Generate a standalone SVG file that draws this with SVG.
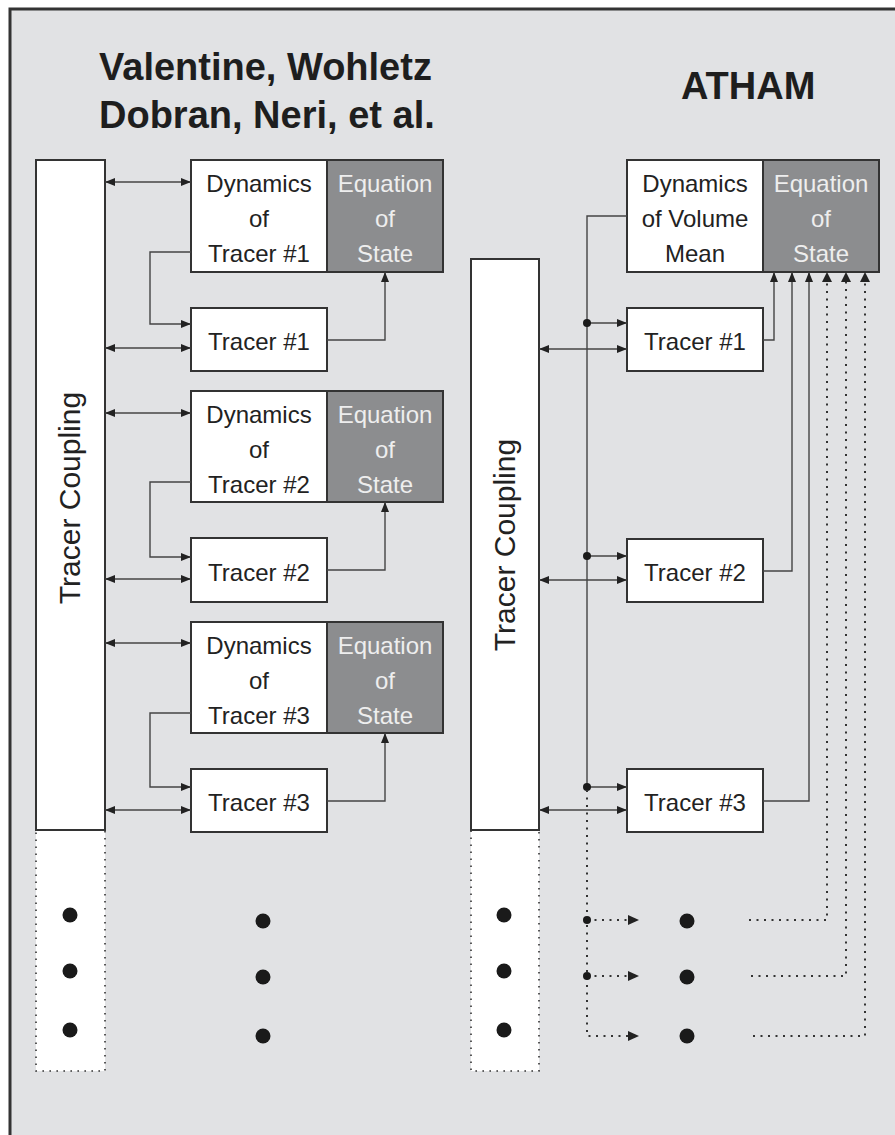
<svg xmlns="http://www.w3.org/2000/svg" width="895" height="1135" viewBox="0 0 895 1135">
<defs>
<style>
.box{fill:#ffffff;stroke:#333333;stroke-width:2}
.eos{fill:#8c8d8f;stroke:#333333;stroke-width:2}
.dbox{fill:#ffffff;stroke:#333333;stroke-width:1.6;stroke-dasharray:1.6 5.4}
.t{font-family:"Liberation Sans",Arial,sans-serif;font-size:24px;fill:#222222;text-anchor:middle}
.tw{font-family:"Liberation Sans",Arial,sans-serif;font-size:24px;fill:#eeeeee;text-anchor:middle}
.title{font-family:"Liberation Sans",Arial,sans-serif;font-size:38px;font-weight:bold;fill:#1e1e1e}
.tc{font-family:"Liberation Sans",Arial,sans-serif;font-size:30px;fill:#222222;text-anchor:middle}
.ln{fill:none;stroke:#444444;stroke-width:1.4}
.dl{fill:none;stroke:#333333;stroke-width:2;stroke-dasharray:2 5.5}
.dot{fill:#1a1a1a}
</style>
<marker id="ah" viewBox="0 0 10 8" refX="10" refY="4" markerWidth="10" markerHeight="8" orient="auto-start-reverse" markerUnits="userSpaceOnUse">
<path d="M0,0 L10,4 L0,8 z" fill="#222222"/>
</marker>
</defs>
<rect x="0" y="0" width="895" height="1135" fill="#ffffff"/>
<rect x="10" y="9" width="885" height="1126" fill="#e1e2e4"/>
<path d="M10,1135 V9 H895" fill="none" stroke="#333333" stroke-width="3"/>

<g id="titles">
<text class="title" x="99" y="80">Valentine, Wohletz</text>
<text class="title" x="99" y="128">Dobran, Neri, et al.</text>
<text class="title" x="681" y="99">ATHAM</text>
</g>

<!-- Left column -->
<g id="left-coupling">
<rect class="dbox" x="36" y="830" width="69" height="241"/>
<rect class="box" x="36" y="160" width="69" height="670"/>
<text class="tc" transform="translate(80,498) rotate(-90)">Tracer Coupling</text>
<circle class="dot" cx="70" cy="915" r="7.5"/>
<circle class="dot" cx="70" cy="971" r="7.5"/>
<circle class="dot" cx="70" cy="1030" r="7.5"/>
</g>

<g id="left-dyn1">
<rect class="box" x="191" y="160" width="136" height="112"/>
<text class="t" x="259" y="192">Dynamics</text>
<text class="t" x="259" y="227">of</text>
<text class="t" x="259" y="262">Tracer #1</text>
</g>
<g id="left-eos1">
<rect class="eos" x="327" y="160" width="116" height="112"/>
<text class="tw" x="385" y="192">Equation</text>
<text class="tw" x="385" y="227">of</text>
<text class="tw" x="385" y="262">State</text>
</g>
<g id="left-tracer1">
<rect class="box" x="191" y="308" width="136" height="63"/>
<text class="t" x="259" y="350">Tracer #1</text>
</g>

<g id="left-dyn2">
<rect class="box" x="191" y="391" width="136" height="111"/>
<text class="t" x="259" y="423">Dynamics</text>
<text class="t" x="259" y="458">of</text>
<text class="t" x="259" y="493">Tracer #2</text>
</g>
<g id="left-eos2">
<rect class="eos" x="327" y="391" width="116" height="111"/>
<text class="tw" x="385" y="423">Equation</text>
<text class="tw" x="385" y="458">of</text>
<text class="tw" x="385" y="493">State</text>
</g>
<g id="left-tracer2">
<rect class="box" x="191" y="538" width="136" height="64"/>
<text class="t" x="259" y="581">Tracer #2</text>
</g>

<g id="left-dyn3">
<rect class="box" x="191" y="622" width="136" height="111"/>
<text class="t" x="259" y="654">Dynamics</text>
<text class="t" x="259" y="689">of</text>
<text class="t" x="259" y="724">Tracer #3</text>
</g>
<g id="left-eos3">
<rect class="eos" x="327" y="622" width="116" height="111"/>
<text class="tw" x="385" y="654">Equation</text>
<text class="tw" x="385" y="689">of</text>
<text class="tw" x="385" y="724">State</text>
</g>
<g id="left-tracer3">
<rect class="box" x="191" y="769" width="136" height="63"/>
<text class="t" x="259" y="811">Tracer #3</text>
</g>

<g id="left-ellipsis">
<circle class="dot" cx="263" cy="921" r="7.5"/>
<circle class="dot" cx="263" cy="977" r="7.5"/>
<circle class="dot" cx="263" cy="1036" r="7.5"/>
</g>

<!-- Right column -->
<g id="right-coupling">
<rect class="dbox" x="471" y="830" width="68" height="241"/>
<rect class="box" x="471" y="259" width="68" height="571"/>
<text class="tc" transform="translate(515,545) rotate(-90)">Tracer Coupling</text>
<circle class="dot" cx="504" cy="915" r="7.5"/>
<circle class="dot" cx="504" cy="971" r="7.5"/>
<circle class="dot" cx="504" cy="1030" r="7.5"/>
</g>
<g id="right-dyn">
<rect class="box" x="627" y="160" width="136" height="112"/>
<text class="t" x="695" y="192">Dynamics</text>
<text class="t" x="695" y="227">of Volume</text>
<text class="t" x="695" y="262">Mean</text>
</g>
<g id="right-eos">
<rect class="eos" x="763" y="160" width="116" height="112"/>
<text class="tw" x="821" y="192">Equation</text>
<text class="tw" x="821" y="227">of</text>
<text class="tw" x="821" y="262">State</text>
</g>
<g id="right-tracer1">
<rect class="box" x="627" y="308" width="136" height="63"/>
<text class="t" x="695" y="350">Tracer #1</text>
</g>
<g id="right-tracer2">
<rect class="box" x="627" y="539" width="136" height="63"/>
<text class="t" x="695" y="581">Tracer #2</text>
</g>
<g id="right-tracer3">
<rect class="box" x="627" y="769" width="136" height="63"/>
<text class="t" x="695" y="811">Tracer #3</text>
</g>
<g id="right-ellipsis">
<circle class="dot" cx="687" cy="921" r="7.5"/>
<circle class="dot" cx="687" cy="977" r="7.5"/>
<circle class="dot" cx="687" cy="1036" r="7.5"/>
</g>

<g id="connectors">
<!-- left double arrows -->
<path class="ln" d="M105,182 H191" marker-start="url(#ah)" marker-end="url(#ah)"/>
<path class="ln" d="M105,348 H191" marker-start="url(#ah)" marker-end="url(#ah)"/>
<path class="ln" d="M105,413 H191" marker-start="url(#ah)" marker-end="url(#ah)"/>
<path class="ln" d="M105,579 H191" marker-start="url(#ah)" marker-end="url(#ah)"/>
<path class="ln" d="M105,643 H191" marker-start="url(#ah)" marker-end="url(#ah)"/>
<path class="ln" d="M105,810 H191" marker-start="url(#ah)" marker-end="url(#ah)"/>
<!-- left dynamics to tracer -->
<path class="ln" d="M191,252 H150 V324 H191" marker-end="url(#ah)"/>
<path class="ln" d="M191,482 H150 V557 H191" marker-end="url(#ah)"/>
<path class="ln" d="M191,713 H150 V787 H191" marker-end="url(#ah)"/>
<!-- left tracer to EOS -->
<path class="ln" d="M327,340 H385 V272" marker-end="url(#ah)"/>
<path class="ln" d="M327,570 H385 V502" marker-end="url(#ah)"/>
<path class="ln" d="M327,801 H385 V733" marker-end="url(#ah)"/>

<!-- right double arrows -->
<path class="ln" d="M539,349 H627" marker-start="url(#ah)" marker-end="url(#ah)"/>
<path class="ln" d="M539,580 H627" marker-start="url(#ah)" marker-end="url(#ah)"/>
<path class="ln" d="M539,810 H627" marker-start="url(#ah)" marker-end="url(#ah)"/>
<!-- right trunk -->
<path class="ln" d="M627,216 H587 V787"/>
<path class="ln" d="M587,323 H627" marker-end="url(#ah)"/>
<path class="ln" d="M587,556 H627" marker-end="url(#ah)"/>
<path class="ln" d="M587,787 H627" marker-end="url(#ah)"/>
<circle class="dot" cx="587" cy="323" r="4"/>
<circle class="dot" cx="587" cy="556" r="4"/>
<circle class="dot" cx="587" cy="787" r="4"/>
<!-- right tracer to EOS -->
<path class="ln" d="M763,340 H774 V272" marker-end="url(#ah)"/>
<path class="ln" d="M763,571 H792 V272" marker-end="url(#ah)"/>
<path class="ln" d="M763,801 H809 V272" marker-end="url(#ah)"/>
<!-- dotted -->
<path class="dl" d="M587,790 V1036 H628"/>
<path class="dl" d="M587,920 H628"/>
<path class="dl" d="M587,976 H628"/>
<circle class="dot" cx="587" cy="920" r="4"/>
<circle class="dot" cx="587" cy="976" r="4"/>
<path d="M628,915 L639,920 L628,925 z" fill="#222222"/>
<path d="M628,971 L639,976 L628,981 z" fill="#222222"/>
<path d="M628,1031 L639,1036 L628,1041 z" fill="#222222"/>
<path class="dl" d="M749,920 H827 V282"/>
<path class="dl" d="M751,976 H846 V282"/>
<path class="dl" d="M753,1036 H865 V282"/>
<path d="M822,282 L827,272 L832,282 z" fill="#222222"/>
<path d="M841,282 L846,272 L851,282 z" fill="#222222"/>
<path d="M860,282 L865,272 L870,282 z" fill="#222222"/>
</g>
</svg>
